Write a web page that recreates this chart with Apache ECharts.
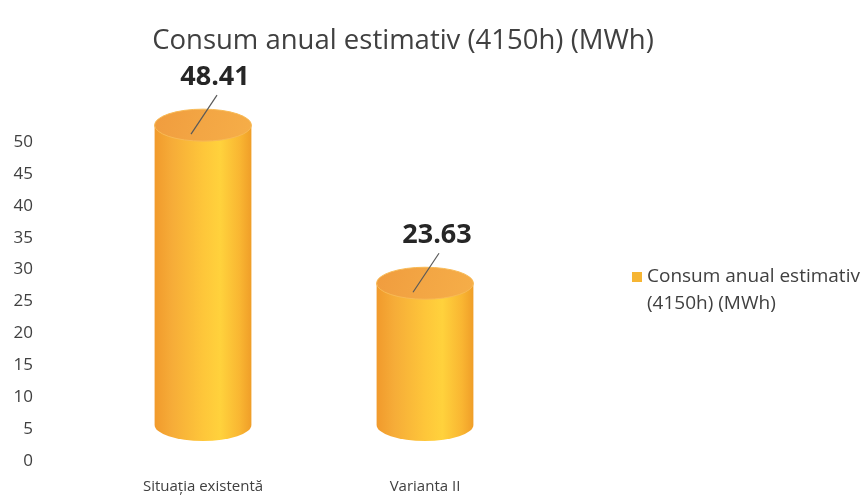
<!DOCTYPE html>
<html>
<head>
<meta charset="utf-8">
<script src="https://cdn.jsdelivr.net/npm/echarts@6/dist/echarts.min.js"></script>
<style>html,body{margin:0;padding:0;background:#fff}#c{width:868px;height:499px}</style>
</head>
<body>
<div id="c"></div>
<script>
const titleText = 'Consum anual estimativ (4150h) (MWh)';
const seriesName = 'Consum anual estimativ (4150h) (MWh)';
const categories = ['Situația existentă', 'Varianta II'];
const values = [48.41, 23.63];
const yTicks = { min: 0, max: 50, interval: 5 };

const FONT = '"Open Sans", "Noto Sans", sans-serif';
const chart = echarts.init(document.getElementById('c'), null, { renderer: 'canvas' });

function renderItem(params, api) {
  const idx = api.value(0);
  const val = api.value(1);
  const top = api.coord([idx, val]);
  const base = api.coord([idx, 0]);
  const bw = api.size([1, 0])[0];
  const rx = bw * 0.218;
  const ry = 16;
  const cx = top[0];
  const ty = top[1] - 27;
  const by = base[1] - 36;
  const body = 'M' + (cx - rx) + ' ' + ty + ' L' + (cx - rx) + ' ' + by +
    ' A' + rx + ' ' + ry + ' 0 0 0 ' + (cx + rx) + ' ' + by +
    ' L' + (cx + rx) + ' ' + ty + ' Z';
  const cap = 'M' + (cx - rx) + ' ' + ty + ' A' + rx + ' ' + ry + ' 0 1 0 ' + (cx + rx) + ' ' + ty +
    ' A' + rx + ' ' + ry + ' 0 1 0 ' + (cx - rx) + ' ' + ty + ' Z';
  return {
    type: 'group',
    children: [
      {
        type: 'path',
        shape: { pathData: body },
        style: {
          fill: new echarts.graphic.LinearGradient(0, 0, 1, 0, [
            { offset: 0, color: '#F19A2C' },
            { offset: 0.18, color: '#F6AC38' },
            { offset: 0.5, color: '#FEC63A' },
            { offset: 0.68, color: '#FFD23C' },
            { offset: 0.88, color: '#F9B632' },
            { offset: 1, color: '#F09E28' }
          ])
        }
      },
      {
        type: 'path',
        shape: { pathData: cap },
        style: {
          fill: new echarts.graphic.LinearGradient(0, 0, 1, 1, [
            { offset: 0, color: '#F09C3E' },
            { offset: 0.5, color: '#F3A644' },
            { offset: 1, color: '#F6AE48' }
          ]),
          stroke: '#F8BA55',
          lineWidth: 1
        }
      },
      {
        type: 'line',
        shape: { x1: cx + 14, y1: ty - 30, x2: cx - 12, y2: ty + 9 },
        style: { stroke: '#595959', lineWidth: 1.2 }
      },
      {
        type: 'text',
        style: {
          text: val.toFixed(2),
          x: cx + 12,
          y: ty - 48,
          align: 'center',
          verticalAlign: 'middle',
          font: 'bold 27px ' + FONT,
          fill: '#262626'
        }
      }
    ]
  };
}

chart.setOption({
  backgroundColor: '#ffffff',
  animation: false,
  title: {
    text: titleText,
    left: 398,
    textAlign: 'center',
    top: 22,
    textStyle: { fontFamily: FONT, fontSize: 27.5, fontWeight: 'normal', color: '#404040' }
  },
  legend: {
    orient: 'vertical',
    left: 627,
    top: 258,
    icon: 'path://M0,0h10v10h-10z M0,35.99h0.01v0.01h-0.01z',
    itemWidth: 10,
    itemHeight: 36,
    itemGap: 8,
    formatter: function () { return 'Consum anual estimativ\n(4150h) (MWh)'; },
    textStyle: { fontFamily: FONT, fontSize: 19, color: '#404040', lineHeight: 27 },
    data: [seriesName]
  },
  grid: { left: 92, width: 444, top: 142, bottom: 38 },
  xAxis: {
    type: 'category',
    data: categories,
    axisLine: { show: false },
    axisTick: { show: false },
    axisLabel: { margin: 18, fontFamily: FONT, fontSize: 15, color: '#404040' }
  },
  yAxis: {
    type: 'value',
    min: yTicks.min,
    max: yTicks.max,
    interval: yTicks.interval,
    splitLine: { show: false },
    axisLine: { show: false },
    axisTick: { show: false },
    axisLabel: { margin: 59, fontFamily: FONT, fontSize: 17, color: '#404040' }
  },
  series: [{
    name: seriesName,
    type: 'custom',
    renderItem: renderItem,
    itemStyle: { color: '#F6B533' },
    encode: { x: 0, y: 1 },
    data: values.map((v, i) => [i, v])
  }]
});
</script>
</body>
</html>
